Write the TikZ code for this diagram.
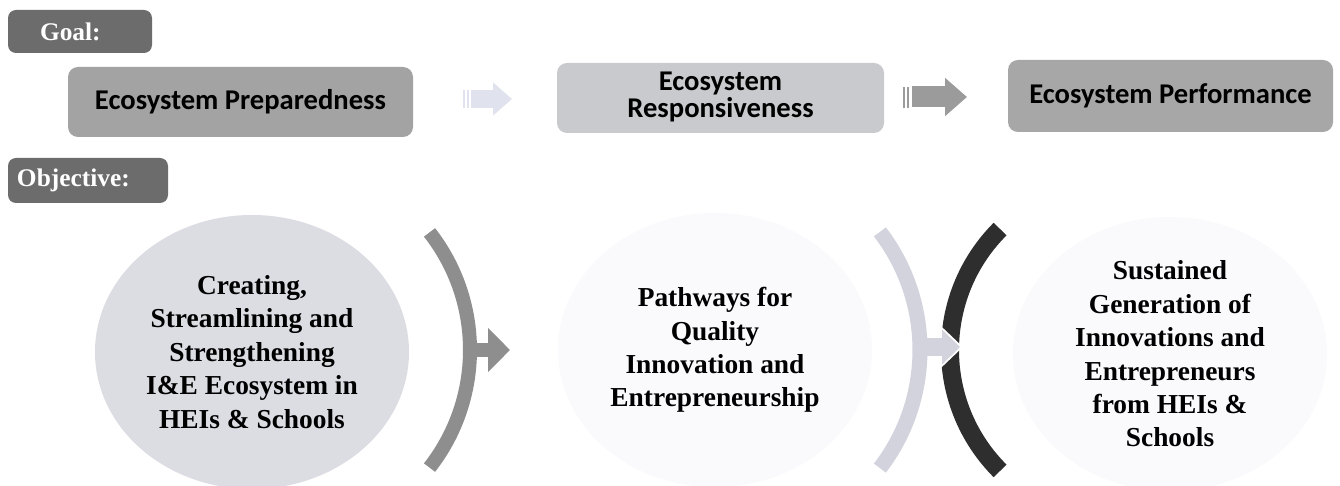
\documentclass[tikz,border=0pt]{standalone}
\usepackage{fontspec}
\setmainfont{Liberation Serif}
\newfontfamily\boxfont{Carlito}
\usepackage{tikz}
\usepackage{xcolor}
\usetikzlibrary{shapes.geometric, arrows.meta, positioning}

\definecolor{taggray}{HTML}{6C6C6C}
\definecolor{prepgray}{HTML}{A3A3A3}
\definecolor{respgray}{HTML}{C9CACE}
\definecolor{perfgray}{HTML}{A7A7A7}
\definecolor{circA}{HTML}{DCDCE3}
\definecolor{circB}{HTML}{FAFAFC}
\definecolor{arcA}{HTML}{8E8E8E}
\definecolor{arcB}{HTML}{D2D3DD}
\definecolor{arcC}{HTML}{2E2E2E}
\definecolor{arrowA}{HTML}{E0E3ED}
\definecolor{arrowB}{HTML}{9B9B9B}

\tikzstyle{tagbox} = [rectangle, rounded corners=4pt, fill=taggray, text=white, align=left, font=\fontsize{12.7}{14}\selectfont\bfseries]
\tikzstyle{goalbox} = [rectangle, rounded corners=5pt, align=center, text=black, font=\boxfont\fontsize{14.3}{12}\selectfont\bfseries]
\tikzstyle{objcircle} = [ellipse, minimum width=157pt, minimum height=137pt, inner sep=0pt, align=center, font=\fontsize{13.7}{16.7}\selectfont\bfseries]
\tikzstyle{arcline} = [line cap=butt]
\tikzstyle{stripe} = [line width=1pt]

\begin{document}
\begin{tikzpicture}[x=0.5pt, y=-0.5pt]

\useasboundingbox (0,0) rectangle (1340,486);
\fill[white] (0,0) rectangle (1340,486);

% Goal row
\node (goal) [tagbox, text width=40pt, inner xsep=16pt, minimum height=21.5pt] at (80,31.5) {Goal:};

\node (prep) [goalbox, fill=prepgray, minimum width=172.5pt, minimum height=35pt] at (240.5,102) {Ecosystem Preparedness};

\node (resp) [goalbox, fill=respgray, minimum width=163.5pt, minimum height=35pt, text depth=3pt] at (720.5,98) {Ecosystem\\Responsiveness};

\node (perf) [goalbox, fill=perfgray, minimum width=162.5pt, minimum height=36pt] at (1170.5,96) {Ecosystem Performance};

% Objective row
\node (objective) [tagbox, text width=71pt, inner xsep=4.5pt, minimum height=22.5pt] at (88,180.5) {Objective:};

\node (create) [objcircle, fill=circA] at (252,352) {Creating,\\Streamlining and\\Strengthening\\I\&E Ecosystem in\\HEIs \& Schools};

\node (pathways) [objcircle, fill=circB] at (715,350) {Pathways for\\Quality\\Innovation and\\Entrepreneurship};

\node (sustain) [objcircle, fill=circB] at (1170,354) {Sustained\\Generation of\\Innovations and\\Entrepreneurs\\from HEIs \&\\Schools};

% Arrow ends
\coordinate (prep-out) at (471,99);
\coordinate (resp-in) at (512,99);
\coordinate (resp-out) at (912,97);
\coordinate (perf-in) at (967,97);
\coordinate (create-out) at (468,350);
\coordinate (pathways-in) at (510,350);
\coordinate (pathways-out) at (918,347);
\coordinate (sustain-in) at (960,347);

% Arrows
\draw [stripe, draw=arrowA] (464,90) -- (464,108);
\draw [stripe, draw=arrowA] (468,90) -- (468,108);
\draw [line width=9pt, draw=arrowA, -{Triangle[width=16pt, length=9.5pt]}] (prep-out) -- (resp-in);

\draw [stripe, draw=arrowB] (904,87) -- (904,108);
\draw [stripe, draw=arrowB] (908,87) -- (908,108);
\draw [line width=10.5pt, draw=arrowB, -{Triangle[width=18.5pt, length=11pt]}] (resp-out) -- (perf-in);

% Arcs
\draw [arcline, line width=7pt, draw=arcA] ([shift={(-38:191)}]279,350) arc[start angle=-38, end angle=38, radius=191];
\draw [line width=7pt, draw=arcA, -{Triangle[width=21.5pt, length=11pt]}] (create-out) -- (pathways-in);

\draw [arcline, line width=9pt, draw=arcC] ([shift={(135:171)}]1121,350) arc[start angle=135, end angle=225, radius=171];
\draw [line width=12pt, draw=white, -{Triangle[width=22pt, length=12pt]}] (pathways-out) -- ([xshift=1.5pt]sustain-in);
\draw [arcline, line width=7.5pt, draw=arcB] ([shift={(-37.5:194)}]726,350) arc[start angle=-37.5, end angle=37.5, radius=194];
\draw [line width=9pt, draw=arcB, -{Triangle[width=17pt, length=9pt]}] (pathways-out) -- (sustain-in);

\end{tikzpicture}
\end{document}
